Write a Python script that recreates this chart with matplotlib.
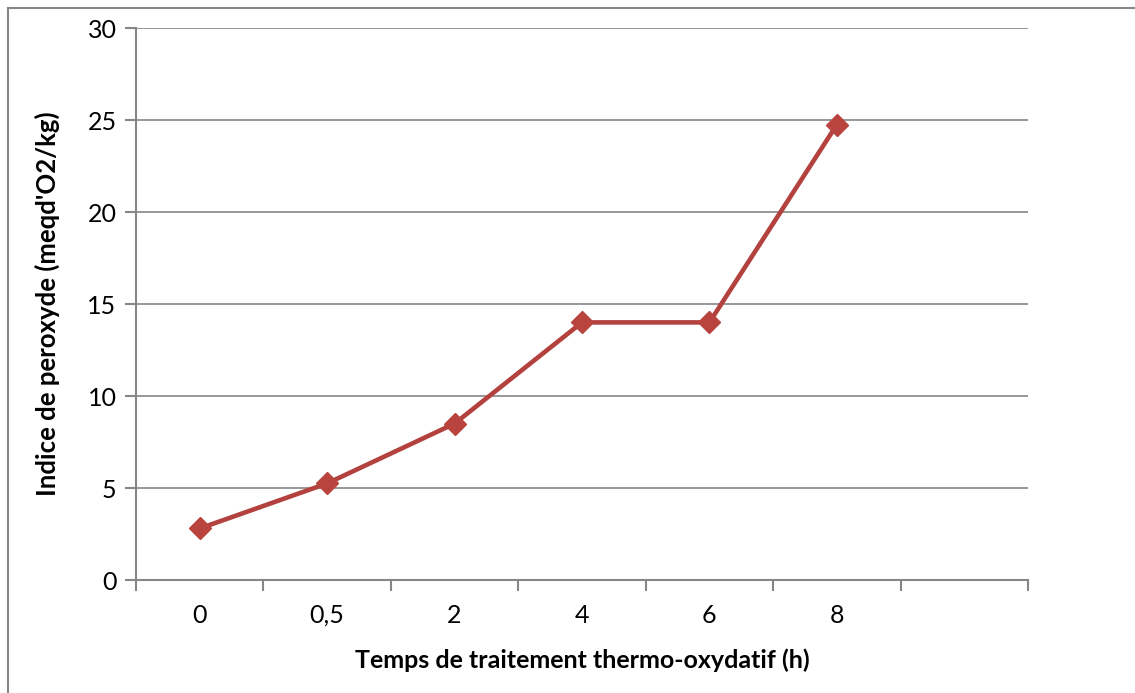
import numpy as np
import matplotlib.pyplot as plt
from matplotlib.lines import Line2D

# Données
temps = ['0', '0,5', '2', '4', '6', '8']
peroxyde = [2.8, 5.25, 8.5, 14.0, 14.0, 24.75]
n_cat = 7  # une catégorie vide à droite

plt.rcParams['font.family'] = ['Lato', 'DejaVu Sans']

fig = plt.figure(figsize=(11.35, 6.93), dpi=100)
ax = fig.add_axes([136/1135, 1 - 580/693, 892/1135, 552/693])

gris = '#868686'
x = np.arange(len(temps))
ax.plot(x, peroxyde, color='#B3413E', lw=3.3, marker='D', markersize=11,
        markerfacecolor='#B9433F', markeredgecolor='#B9433F', zorder=3)

ax.set_xlim(-0.5, n_cat - 0.5)
ax.set_ylim(0, 30)
ax.set_yticks(range(0, 31, 5))
ax.yaxis.grid(True, color=gris, lw=1.2)
ax.set_axisbelow(True)

# ticks aux frontières des catégories, étiquettes au centre
ax.set_xticks(np.arange(-0.5, n_cat, 1))
ax.set_xticklabels([])
ax.set_xticks(x, minor=True)
ax.set_xticklabels(temps, minor=True)
ax.tick_params(axis='x', which='minor', length=0, pad=17, labelsize=18)
ax.tick_params(axis='x', which='major', length=8, width=1.5, color=gris, direction='out')
ax.tick_params(axis='y', length=8, width=1.5, color=gris, labelsize=18, pad=6)

for s in ['top', 'right']:
    ax.spines[s].set_visible(False)
for s in ['left', 'bottom']:
    ax.spines[s].set_color(gris)
    ax.spines[s].set_linewidth(1.5)

ax.set_xlabel('Temps de traitement thermo-oxydatif (h)', fontsize=18, fontweight='bold', labelpad=16)
ax.set_ylabel("Indice de peroxyde (meqd'O2/kg)", fontsize=18.5, fontweight='bold', labelpad=20)

# cadre du graphique
fig.add_artist(Line2D([8/1135, 8/1135], [0, 1 - 8/693], color=gris, lw=1.5, transform=fig.transFigure))
fig.add_artist(Line2D([8/1135, 1], [1 - 8/693, 1 - 8/693], color=gris, lw=1.5, transform=fig.transFigure))

fig.savefig('out.png', dpi=100)
